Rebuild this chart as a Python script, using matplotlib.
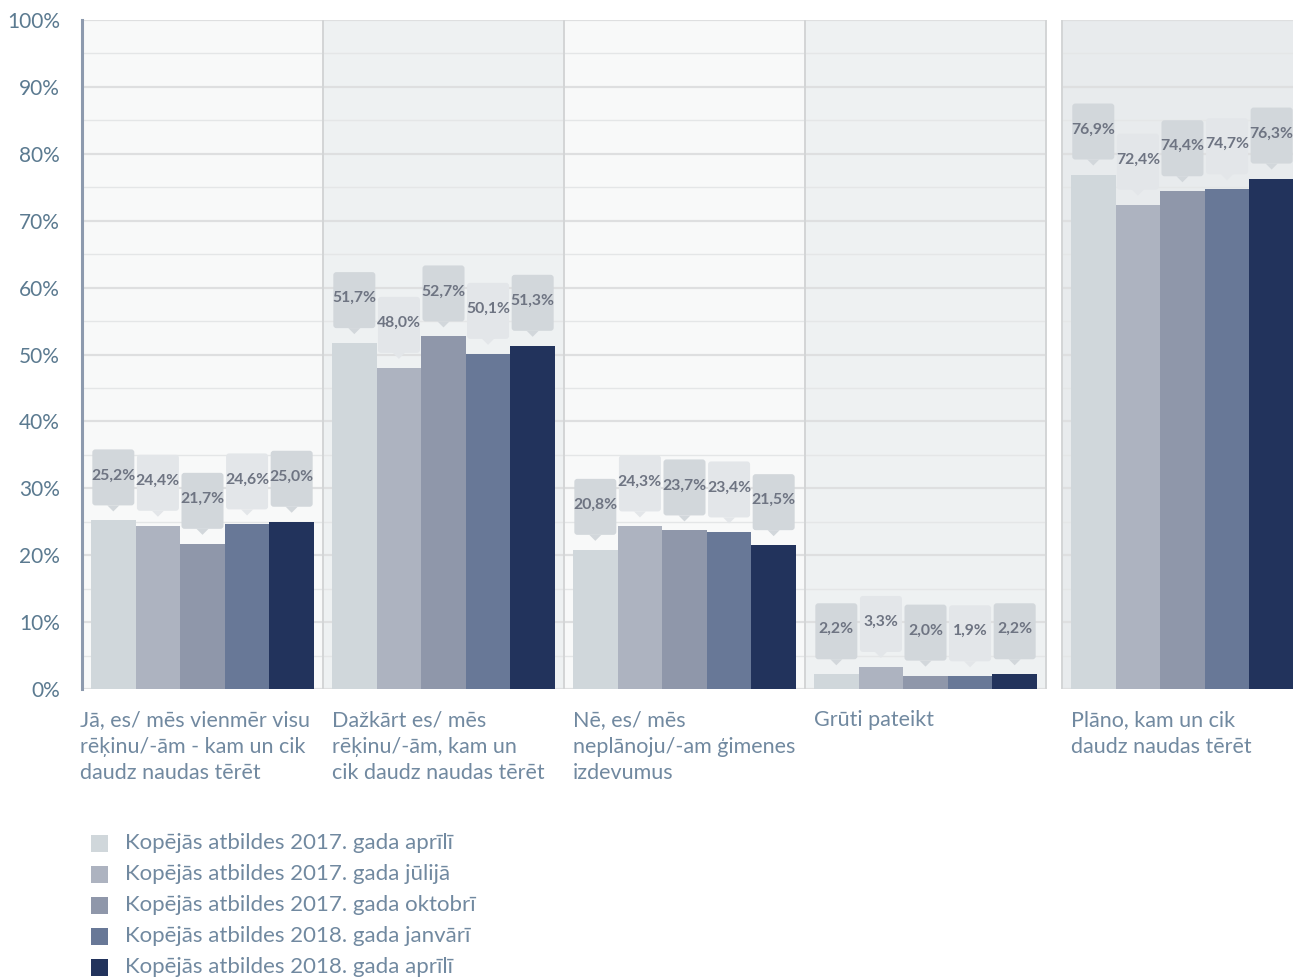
import numpy as np
import matplotlib
matplotlib.use('Agg')
import matplotlib.pyplot as plt
import matplotlib.transforms as mtransforms
from matplotlib.patches import FancyBboxPatch, Polygon, Rectangle

plt.rcParams['font.family'] = ['Lato', 'DejaVu Sans']

categories = [
    'Jā, es/ mēs vienmēr visu\nrēķinu/-ām - kam un cik\ndaudz naudas tērēt',
    'Dažkārt es/ mēs\nrēķinu/-ām, kam un\ncik daudz naudas tērēt',
    'Nē, es/ mēs\nneplānoju/-am ģimenes\nizdevumus',
    'Grūti pateikt',
    'Plāno, kam un cik\ndaudz naudas tērēt',
]
series_labels = [
    'Kopējās atbildes 2017. gada aprīlī',
    'Kopējās atbildes 2017. gada jūlijā',
    'Kopējās atbildes 2017. gada oktobrī',
    'Kopējās atbildes 2018. gada janvārī',
    'Kopējās atbildes 2018. gada aprīlī',
]
apr2017 = [25.2, 51.7, 20.8, 2.2, 76.9]
jul2017 = [24.4, 48.0, 24.3, 3.3, 72.4]
okt2017 = [21.7, 52.7, 23.7, 2.0, 74.4]
jan2018 = [24.6, 50.1, 23.4, 1.9, 74.7]
apr2018 = [25.0, 51.3, 21.5, 2.2, 76.3]
series = [apr2017, jul2017, okt2017, jan2018, apr2018]
yticks = [0, 10, 20, 30, 40, 50, 60, 70, 80, 90, 100]

colors = ['#d0d7db', '#adb3c0', '#8f97aa', '#687897', '#22335c']
box_colors = ['#d2d7db', '#e3e6e9']
panel_bg = ['#f8f9f9', '#eef1f2', '#f8f9f9', '#eef1f2', '#e8ebed']
text_col = '#7189a0'

W, H = 1293, 980
fig = plt.figure(figsize=(W / 100, H / 100), dpi=100)
px_per_unit = 241
xmax = 5.066
ax = fig.add_axes([82 / W, (H - 689) / H, xmax * px_per_unit / W, 669 / H])
ax.set_xlim(0, xmax)
ax.set_ylim(0, 100)

px_x = 1 / px_per_unit      # x data units per pixel
px_y = 100 / 669            # y data units per pixel

panel_left = np.arange(5, dtype=float)
panel_left[4] += 15 * px_x + 0.004

# panels, gridlines, separators
for i, x0 in enumerate(panel_left):
    ax.axvspan(x0, x0 + 1, color=panel_bg[i], zorder=0, lw=0)
    for g in range(0, 101, 5):
        major = g % 10 == 0
        ax.hlines(g, x0, x0 + 1, color='#dedfe0' if major else '#e4e6e7',
                  lw=1.6 if major else 1.0, zorder=1)
    if i > 0:
        ax.axvline(x0, color='#d3d5d6', lw=1.4, zorder=1)
ax.axvline(4.0, color='#d3d5d6', lw=1.4, zorder=1)

bar_w = 0.185
pad = 0.0375
for j, vals in enumerate(series):
    xs = panel_left + pad + j * bar_w
    ax.bar(xs, vals, width=bar_w, align='edge', color=colors[j], zorder=2, lw=0)
    for x, v in zip(xs, vals):
        cx = x + bar_w / 2
        bw = 42 * px_x
        bottom = v + 15 * px_y
        bh = 56 * px_y
        box = FancyBboxPatch((cx - bw / 2, bottom), bw, bh,
                             boxstyle='round,pad=0,rounding_size=%f' % (3 * px_x),
                             mutation_aspect=px_y / px_x,
                             fc=box_colors[j % 2], ec='none', zorder=3)
        ax.add_patch(box)
        tri = Polygon([[cx - 6 * px_x, bottom], [cx + 6 * px_x, bottom],
                       [cx, bottom - 6 * px_y]], closed=True,
                      fc=box_colors[j % 2], ec='none', zorder=3)
        ax.add_patch(tri)
        ax.text(cx, bottom + bh / 2 + 2 * px_y, f'{v:.1f}%'.replace('.', ','),
                ha='center', va='center', fontsize=11.3, fontweight='bold',
                color='#6e7482', zorder=4)

for s in ['top', 'right', 'bottom']:
    ax.spines[s].set_visible(False)
ax.spines['left'].set_color('#8d9aae')
ax.spines['left'].set_linewidth(2.2)
ax.spines['left'].set_zorder(5)
ax.set_xticks([])
ax.set_yticks(yticks)
ax.set_yticklabels([f'{t}%' for t in yticks])
ax.tick_params(axis='y', length=0, pad=16, labelsize=15, labelcolor='#5b7a90')

# category labels
trans = mtransforms.blended_transform_factory(ax.transData, fig.transFigure)
for i, lab in enumerate(categories):
    x = panel_left[i] + pad if i > 0 else -2 * px_x
    ax.text(x, (H - 710) / H, lab, transform=trans, ha='left', va='top',
            fontsize=15.5, color=text_col, linespacing=1.42)

# legend
for j, lab in enumerate(series_labels):
    yc = 843 + 31 * j
    fig.add_artist(Rectangle((91 / W, (H - yc - 8.5) / H), 17 / W, 17 / H,
                             transform=fig.transFigure, fc=colors[j], ec='none'))
    fig.text(125 / W, (H - yc) / H, lab, ha='left', va='center', fontsize=16,
             color=text_col)

fig.savefig('out.png', dpi=100)
